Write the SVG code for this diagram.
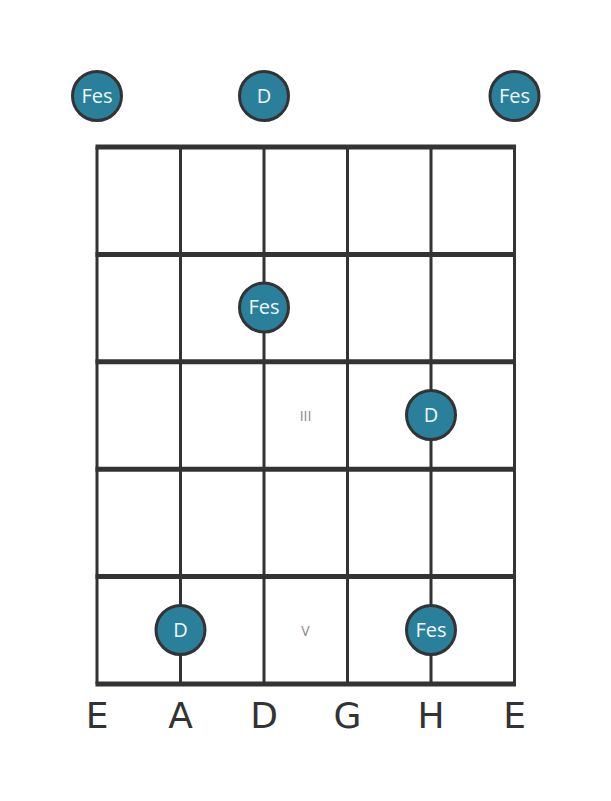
<svg xmlns="http://www.w3.org/2000/svg" width="611" height="801" viewBox="0 0 611 801">
<style>
.fret{stroke:#333;stroke-width:5;fill:none}
.str{stroke:#333;stroke-width:3;fill:none}
.dot{fill:#2a7f9a;stroke:#333;stroke-width:3}
.nt{font-family:"Open Sans","DejaVu Sans",sans-serif;font-size:20px;fill:#eef8fb;text-anchor:middle;dominant-baseline:central}
.rn{font-family:"Open Sans","DejaVu Sans",sans-serif;font-size:14px;fill:#888;text-anchor:middle;dominant-baseline:central}
.sn{font-family:"DejaVu Sans",sans-serif;font-size:36px;fill:#333;text-anchor:middle}
</style>
<rect width="611" height="801" fill="#fff"/>
<g id="connectors">
<line class="str" x1="97" y1="147" x2="97" y2="684"/>
<line class="str" x1="180.5" y1="147" x2="180.5" y2="684"/>
<line class="str" x1="264" y1="147" x2="264" y2="684"/>
<line class="str" x1="347.5" y1="147" x2="347.5" y2="684"/>
<line class="str" x1="431" y1="147" x2="431" y2="684"/>
<line class="str" x1="514.5" y1="147" x2="514.5" y2="684"/>
<line class="fret" x1="95.5" y1="147" x2="516" y2="147"/>
<line class="fret" x1="95.5" y1="254.4" x2="516" y2="254.4"/>
<line class="fret" x1="95.5" y1="361.8" x2="516" y2="361.8"/>
<line class="fret" x1="95.5" y1="469.2" x2="516" y2="469.2"/>
<line class="fret" x1="95.5" y1="576.6" x2="516" y2="576.6"/>
<line class="fret" x1="95.5" y1="684" x2="516" y2="684"/>
</g>
<g id="fret-labels">
<text class="rn" x="305.5" y="415">III</text>
<text class="rn" x="305.5" y="630">V</text>
</g>
<g id="open-E-low"><circle class="dot" cx="97" cy="96" r="24.5"/><text class="nt" x="97" y="95">Fes</text></g>
<g id="open-D"><circle class="dot" cx="264" cy="96" r="24.5"/><text class="nt" x="264" y="95">D</text></g>
<g id="open-E-high"><circle class="dot" cx="514.5" cy="96" r="24.5"/><text class="nt" x="514.5" y="95">Fes</text></g>
<g id="D-fret2"><circle class="dot" cx="264" cy="307.5" r="24.5"/><text class="nt" x="264" y="306.5">Fes</text></g>
<g id="H-fret3"><circle class="dot" cx="431" cy="415" r="24.5"/><text class="nt" x="431" y="414">D</text></g>
<g id="A-fret5"><circle class="dot" cx="180.5" cy="630" r="24.5"/><text class="nt" x="180.5" y="629">D</text></g>
<g id="H-fret5"><circle class="dot" cx="431" cy="630" r="24.5"/><text class="nt" x="431" y="629">Fes</text></g>
<g id="string-names">
<text class="sn" x="97" y="728">E</text>
<text class="sn" x="180.5" y="728">A</text>
<text class="sn" x="264" y="728">D</text>
<text class="sn" x="347.5" y="728">G</text>
<text class="sn" x="431" y="728">H</text>
<text class="sn" x="514.5" y="728">E</text>
</g>
</svg>
